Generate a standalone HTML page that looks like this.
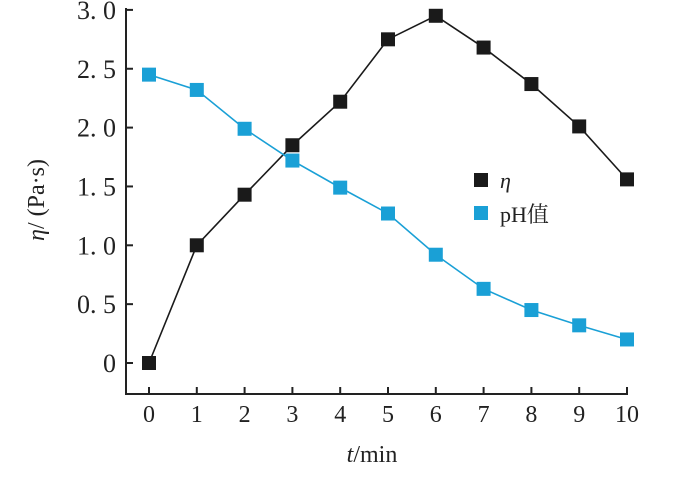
<!DOCTYPE html>
<html><head><meta charset="utf-8"><style>
body{margin:0;background:#fff;}
svg text{font-family:"Liberation Serif","Noto Serif CJK SC",serif;fill:#222;}
</style></head><body>
<svg width="700" height="475" xmlns="http://www.w3.org/2000/svg">
<g id="axes"></g><g id="marks"></g>
<g>
<rect x="474" y="173" width="14" height="14" fill="#1a1a1a"/>
<text x="500" y="188" font-size="22" font-style="italic">η</text>
<rect x="474" y="206" width="14" height="14" fill="#1aa0d6"/>
<text x="500" y="222" font-size="22">pH值</text>
</g>
<text x="372" y="462" font-size="24" text-anchor="middle"><tspan font-style="italic">t</tspan>/min</text>
<text transform="translate(44,200) rotate(-90)" font-size="24" text-anchor="middle"><tspan font-style="italic">η</tspan>/ (Pa·s)</text>
</svg>
<script>
const xCats=[0,1,2,3,4,5,6,7,8,9,10];
const etaVals=[0,1.0,1.43,1.85,2.22,2.75,2.95,2.68,2.37,2.01,1.56];
const phVals=[2.45,2.32,1.99,1.72,1.49,1.27,0.92,0.63,0.45,0.32,0.20];
const yTicks=[0,0.5,1.0,1.5,2.0,2.5,3.0];
const yTickLabels=["0","0. 5","1. 0","1. 5","2. 0","2. 5","3. 0"];
const xTickLabels=["0","1","2","3","4","5","6","7","8","9","10"];
const NS="http://www.w3.org/2000/svg";
const X=v=>149+v*47.8, Y=v=>363-v*117.7;
const axes=document.getElementById('axes'), marks=document.getElementById('marks');
function mk(tag,attrs,parent){const e=document.createElementNS(NS,tag);for(const k in attrs)e.setAttribute(k,attrs[k]);parent.appendChild(e);return e;}
let e=mk('path',{d:'M126,8 L126,394 L628,394',fill:'none',stroke:'#222','stroke-width':2},axes);


yTicks.forEach((t,i)=>{
 let l=mk('line',{x1:126,x2:133,y1:Y(t),y2:Y(t),stroke:'#222','stroke-width':2},axes);
 
 
 let tx=mk('text',{x:116,y:Y(t)+9,'font-size':26,'text-anchor':'end'},axes);tx.textContent=yTickLabels[i];
 
 
});
xCats.forEach((c,i)=>{
 let l=mk('line',{x1:X(c),x2:X(c),y1:394,y2:387,stroke:'#222','stroke-width':2},axes);
 
 
 let tx=mk('text',{x:X(c),y:422,'font-size':24,'text-anchor':'middle'},axes);tx.textContent=xTickLabels[i];
 
 
});
function series(vals,color,name){
 let p=mk('polyline',{points:vals.map((v,i)=>X(xCats[i])+','+Y(v)).join(' '),fill:'none',stroke:color,'stroke-width':1.6},marks);
 
 
 vals.forEach((v,i)=>{
  let r=mk('rect',{x:X(xCats[i])-7,y:Y(v)-7,width:14,height:14,fill:color},marks);
  
  
 });
}
series(etaVals,'#1a1a1a','eta');
series(phVals,'#1aa0d6','ph');
</script>
</body></html>
